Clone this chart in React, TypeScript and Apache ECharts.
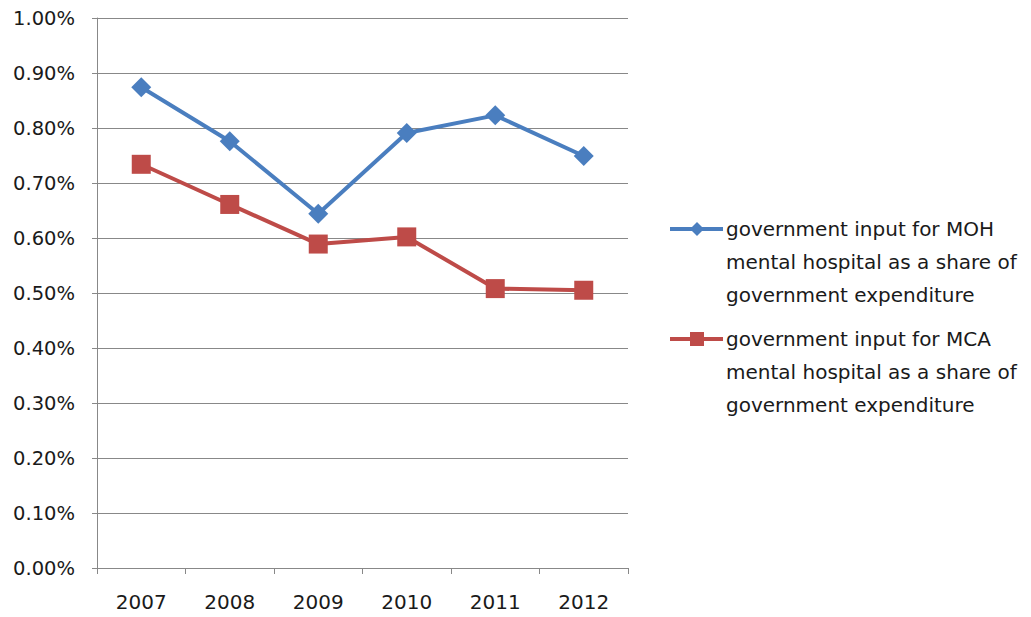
import React, { useEffect, useRef } from "react";
import * as echarts from "echarts";

// Years on the category axis
const years = ["2007", "2008", "2009", "2010", "2011", "2012"];

// Government input for mental hospitals as a share of government expenditure (%)
const mohShare = [0.874, 0.776, 0.644, 0.791, 0.823, 0.749];
const mcaShare = [0.734, 0.661, 0.589, 0.602, 0.508, 0.505];

const mohName = "government input for MOH\nmental hospital as a share of\ngovernment expenditure";
const mcaName = "government input for MCA\nmental hospital as a share of\ngovernment expenditure";

const BLUE = "#4A7EBF";
const RED = "#BE4B48";
const GRID = "#888888";
const FONT = "'DejaVu Sans', sans-serif";

export default function App() {
  const ref = useRef<HTMLDivElement>(null);

  useEffect(() => {
    if (!ref.current) return;
    const chart = echarts.init(ref.current, undefined, { renderer: "svg" });

    const legendText = (y: number, text: string) => ({
      type: "text",
      left: 718,
      top: y,
      style: {
        text,
        fill: "#1a1a1a",
        font: `20px ${FONT}`,
        lineHeight: 33,
      },
    });

    chart.setOption({
      animation: false,
      backgroundColor: "#ffffff",
      grid: { left: 89, right: 403, top: 8, bottom: 49, containLabel: false },
      xAxis: {
        type: "category",
        data: years,
        boundaryGap: true,
        axisLine: { show: true, lineStyle: { color: GRID, width: 1 } },
        axisTick: { show: true, length: 6, lineStyle: { color: GRID } },
        axisLabel: { color: "#1a1a1a", fontSize: 20, fontFamily: FONT, margin: 24 },
        splitLine: { show: false },
      },
      yAxis: {
        type: "value",
        min: 0,
        max: 1,
        interval: 0.1,
        axisLine: { show: true, lineStyle: { color: GRID, width: 1 } },
        axisTick: { show: true, length: 5, lineStyle: { color: GRID } },
        axisLabel: {
          color: "#1a1a1a",
          fontSize: 19.5,
          fontFamily: FONT,
          margin: 22,
          formatter: (v: number) => v.toFixed(2) + "%",
        },
        splitLine: { show: true, lineStyle: { color: GRID, width: 1 } },
      },
      series: [
        {
          name: mohName,
          type: "line",
          data: mohShare,
          symbol: "diamond",
          symbolSize: 20,
          lineStyle: { color: BLUE, width: 4 },
          itemStyle: { color: BLUE },
        },
        {
          name: mcaName,
          type: "line",
          data: mcaShare,
          symbol: "rect",
          symbolSize: 19,
          lineStyle: { color: RED, width: 4 },
          itemStyle: { color: RED },
        },
      ],
      graphic: [
        { type: "line", shape: { x1: 662, y1: 221, x2: 715, y2: 221 }, style: { stroke: BLUE, lineWidth: 4 } },
        { type: "polygon", shape: { points: [[689, 214], [696, 221], [689, 228], [682, 221]] }, style: { fill: BLUE } },
        legendText(204, mohName),
        { type: "line", shape: { x1: 662, y1: 331, x2: 715, y2: 331 }, style: { stroke: RED, lineWidth: 4 } },
        { type: "rect", shape: { x: 682, y: 324, width: 14, height: 14 }, style: { fill: RED } },
        legendText(314, mcaName),
      ],
    });

    return () => chart.dispose();
  }, []);

  return <div ref={ref} style={{ width: 1023, height: 609 }} />;
}
